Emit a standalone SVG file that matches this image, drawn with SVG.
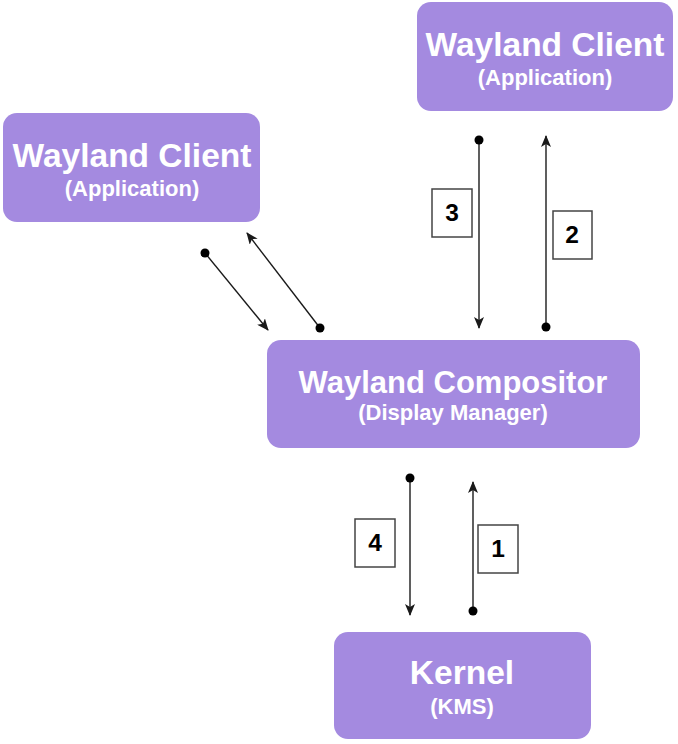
<svg xmlns="http://www.w3.org/2000/svg" width="678" height="744" viewBox="0 0 678 744">
<style>
.node{fill:#a48ae0;stroke:none}
.t1{font-family:"Liberation Sans",Arial,sans-serif;font-weight:bold;fill:#fff;text-anchor:middle}
.big{font-size:33.5px}
.sm{font-size:22px}
.lbl{fill:#fff;stroke:#444;stroke-width:1.5}
.lt{font-family:"Liberation Sans",Arial,sans-serif;font-weight:bold;font-size:24.5px;fill:#000;text-anchor:middle}
.c{stroke:#1a1a1a;stroke-width:1.4;fill:none;marker-end:url(#arr)}
.d{fill:#000}
</style>
<defs>
<marker id="arr" viewBox="0 0 12 10" refX="11" refY="5" markerWidth="12" markerHeight="10" markerUnits="userSpaceOnUse" orient="auto">
<path d="M0,0 L12,5 L0,10 L3,5 z" fill="#1a1a1a"/>
</marker>
</defs>
<g id="client-top">
<rect class="node" x="417" y="2" width="256" height="109" rx="14"/>
<text class="t1 big" x="545" y="56">Wayland Client</text>
<text class="t1 sm" x="545" y="85">(Application)</text>
</g>
<g id="client-left">
<rect class="node" x="3" y="113" width="257" height="109" rx="14"/>
<text class="t1 big" x="132" y="167">Wayland Client</text>
<text class="t1 sm" x="132" y="196">(Application)</text>
</g>
<g id="compositor">
<rect class="node" x="267" y="340" width="373" height="108" rx="14"/>
<text class="t1" font-size="31" x="453" y="393">Wayland Compositor</text>
<text class="t1 sm" x="453" y="420">(Display Manager)</text>
</g>
<g id="kernel">
<rect class="node" x="334" y="632" width="257" height="107" rx="14"/>
<text class="t1 big" x="462" y="684">Kernel</text>
<text class="t1 sm" x="462" y="714">(KMS)</text>
</g>
<g id="connectors">
<line class="c" x1="479" y1="140" x2="479" y2="328"/>
<circle class="d" cx="479" cy="140" r="4.5"/>
<line class="c" x1="546" y1="327" x2="546" y2="136"/>
<circle class="d" cx="546" cy="327" r="4.5"/>
<line class="c" x1="410" y1="478" x2="410" y2="615"/>
<circle class="d" cx="410" cy="478" r="4.5"/>
<line class="c" x1="473" y1="611" x2="473" y2="482"/>
<circle class="d" cx="473" cy="611" r="4.5"/>
<line class="c" x1="205" y1="253" x2="268" y2="330"/>
<circle class="d" cx="205" cy="253" r="4.5"/>
<line class="c" x1="320" y1="328" x2="247" y2="233"/>
<circle class="d" cx="320" cy="328" r="4.5"/>
</g>
<g id="label-3"><rect class="lbl" x="432" y="189" width="40" height="48"/><text class="lt" x="452" y="221">3</text></g>
<g id="label-2"><rect class="lbl" x="553" y="211" width="39" height="48"/><text class="lt" x="572" y="243">2</text></g>
<g id="label-4"><rect class="lbl" x="355" y="519" width="40" height="48"/><text class="lt" x="375" y="551">4</text></g>
<g id="label-1"><rect class="lbl" x="478" y="525" width="40" height="48"/><text class="lt" x="498" y="557">1</text></g>
</svg>
